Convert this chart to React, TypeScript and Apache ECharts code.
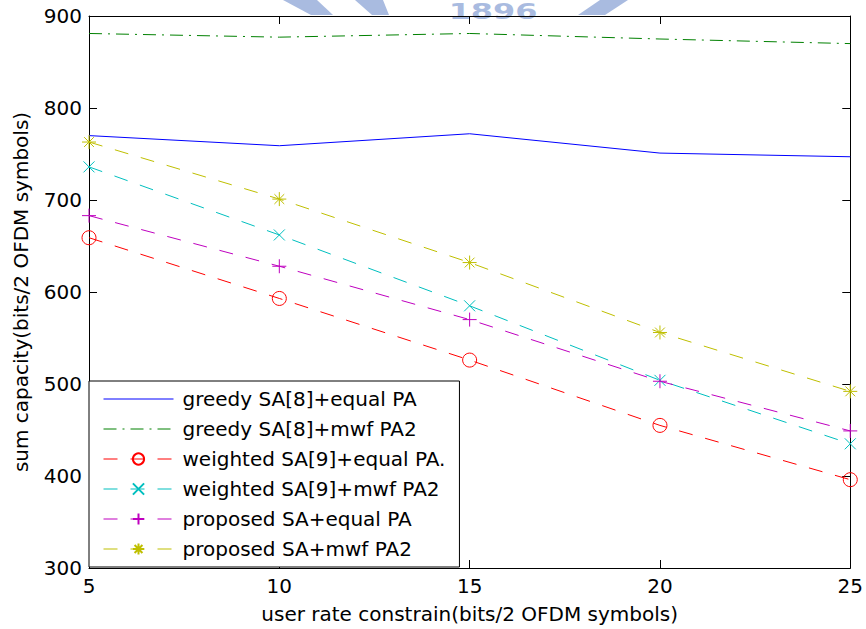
import React, { useEffect, useRef } from 'react';
import * as echarts from 'echarts';

// ---- data ----
const xValues = [5, 10, 15, 20, 25];
const greedyEqualPA = [770, 759, 772, 751, 747];
const greedyMwfPA2 = [881, 877, 881, 875, 870];
const weightedEqualPA = [659, 593, 526, 455, 396];
const weightedMwfPA2 = [736, 662, 585, 504, 435];
const proposedEqualPA = [683, 628, 570, 503, 449];
const proposedMwfPA2 = [763, 701, 632, 556, 492];

const seriesNames = [
  'greedy SA[8]+equal PA',
  'greedy SA[8]+mwf PA2',
  'weighted SA[9]+equal PA.',
  'weighted SA[9]+mwf PA2',
  'proposed SA+equal PA',
  'proposed SA+mwf PA2',
];

const xAxisTitle = 'user rate constrain(bits/2 OFDM symbols)';
const yAxisTitle = 'sum capacity(bits/2 OFDM symbols)';
const logoText = '1896';

const FONT = 'DejaVu Sans';

const SYM_X = 'path://M0,0L10,10M10,0L0,10';
const SYM_PLUS = 'path://M5,0L5,10M0,5L10,5';
const SYM_STAR = 'path://M5,0L5,10M0,5L10,5M1.5,1.5L8.5,8.5M8.5,1.5L1.5,8.5';

function mkSeries(name: string, vals: number[], color: string, type: any, symbol: string, size: number) {
  return {
    name,
    type: 'line',
    data: xValues.map((x, i) => [x, vals[i]]),
    xAxisIndex: 0,
    yAxisIndex: 0,
    symbol,
    symbolSize: size,
    showSymbol: symbol !== 'none',
    lineStyle: { color, width: 1, type },
    itemStyle: { color: 'rgba(0,0,0,0)', borderColor: color, borderWidth: 1 },
    emphasis: { disabled: true },
    silent: true,
    z: 2,
  };
}

const DASH = [14, 13];
const DASHDOT = [13, 6, 2, 6];

export default function App() {
  const ref = useRef<HTMLDivElement>(null);
  useEffect(() => {
    document.body.style.margin = '0';
    if (!ref.current) return;
    const chart = echarts.init(ref.current, undefined, { renderer: 'svg' });
    const axisLine = { show: true, onZero: false, lineStyle: { color: '#000', width: 1 } };
    const axisTick = { show: true, inside: true, length: 8, lineStyle: { color: '#000', width: 1 } };
    const labelStyle = { fontFamily: FONT, fontSize: 20, color: '#000' };
    const logo = '#A9BBE0';
    const hidden = { color: 'rgba(0,0,0,0)', borderColor: 'rgba(0,0,0,0)', borderWidth: 0 };
    chart.setOption({
      animation: false,
      backgroundColor: '#fff',
      grid: { left: 89, right: 14, top: 16, bottom: 60, containLabel: false },
      xAxis: [
        {
          type: 'value', min: 5, max: 25, interval: 5, position: 'bottom',
          axisLine, axisTick,
          axisLabel: { ...labelStyle, margin: 8 },
          splitLine: { show: false },
          name: xAxisTitle, nameLocation: 'middle', nameGap: 36,
          nameTextStyle: labelStyle,
        },
        {
          type: 'value', min: 5, max: 25, interval: 5, position: 'top',
          axisLine, axisTick, axisLabel: { show: false }, splitLine: { show: false },
        },
      ],
      yAxis: [
        {
          type: 'value', min: 300, max: 900, interval: 100, position: 'left',
          axisLine, axisTick,
          axisLabel: { ...labelStyle, margin: 7 },
          splitLine: { show: false },
          name: yAxisTitle, nameLocation: 'middle', nameGap: 58, nameRotate: 90,
          nameTextStyle: labelStyle,
        },
        {
          type: 'value', min: 300, max: 900, interval: 100, position: 'right',
          axisLine, axisTick, axisLabel: { show: false }, splitLine: { show: false },
        },
      ],
      legend: {
        orient: 'vertical', left: 89, top: 381,
        itemWidth: 70, itemHeight: 14, itemGap: 10,
        padding: [8, 14, 8, 14],
        borderColor: '#000', borderWidth: 1, backgroundColor: '#fff',
        textStyle: { ...labelStyle, padding: [0, 0, 0, 4] },
        lineStyle: { width: 1 },
        selectedMode: false,
        data: [
          { name: seriesNames[0], itemStyle: hidden },
          { name: seriesNames[1], itemStyle: hidden },
          seriesNames[2], seriesNames[3], seriesNames[4], seriesNames[5],
        ],
      },
      graphic: [
        { type: 'polygon', z: 0, shape: { points: [[283, 0], [317, 0], [333, 15], [311, 15]] }, style: { fill: logo } },
        { type: 'polygon', z: 0, shape: { points: [[355, 0], [383, 0], [389, 15], [372, 15]] }, style: { fill: logo } },
        { type: 'polygon', z: 0, shape: { points: [[600, 0], [628, 0], [605, 15], [578, 15]] }, style: { fill: logo } },
        { type: 'text', z: 0, x: 493, y: 0, scaleX: 1.45, style: { text: logoText, fill: logo, font: 'bold 22px DejaVu Sans', textAlign: 'center', textVerticalAlign: 'top' } },
      ],
      series: [
        mkSeries(seriesNames[0], greedyEqualPA, '#0000FF', 'solid', 'none', 0),
        mkSeries(seriesNames[1], greedyMwfPA2, '#008000', DASHDOT, 'none', 0),
        mkSeries(seriesNames[2], weightedEqualPA, '#FF0000', DASH, 'circle', 14),
        mkSeries(seriesNames[3], weightedMwfPA2, '#00BFBF', DASH, SYM_X, 11),
        mkSeries(seriesNames[4], proposedEqualPA, '#BF00BF', DASH, SYM_PLUS, 14),
        mkSeries(seriesNames[5], proposedMwfPA2, '#BFBF00', DASH, SYM_STAR, 14),
      ],
    });
    return () => chart.dispose();
  }, []);
  return <div ref={ref} style={{ width: 866, height: 629 }} />;
}
